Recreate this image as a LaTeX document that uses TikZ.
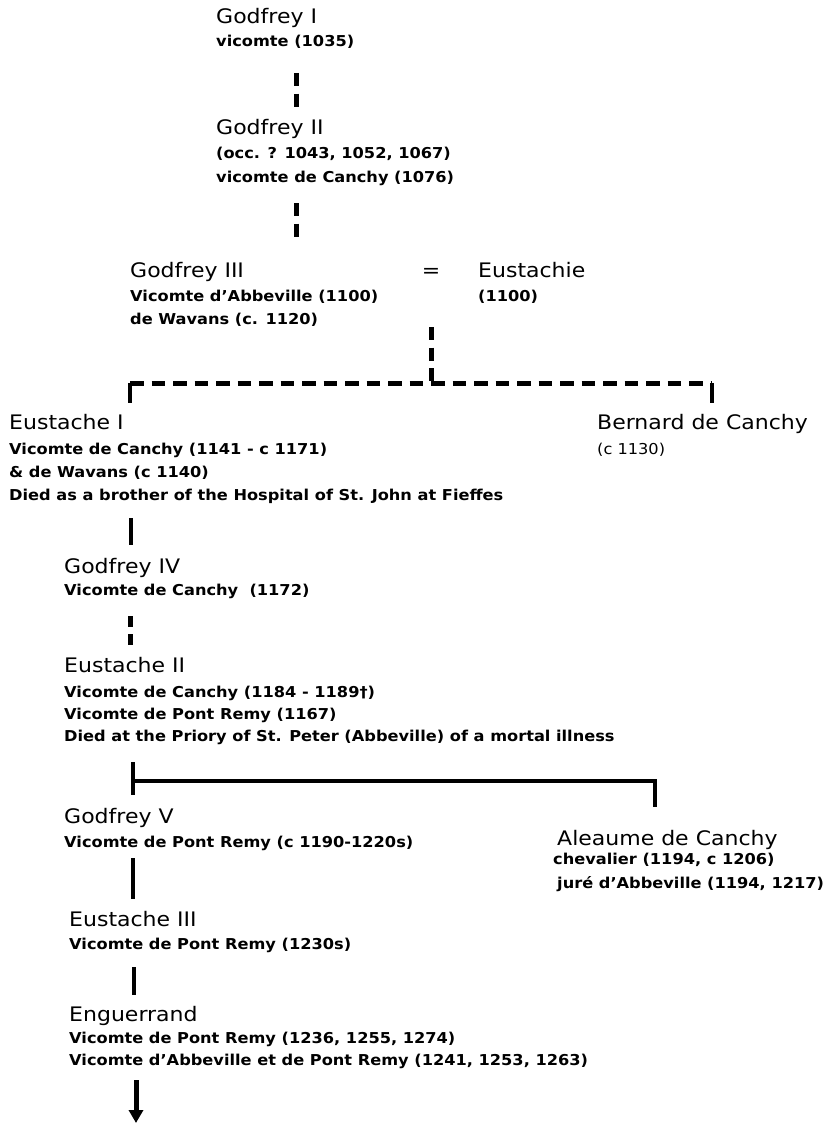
\documentclass[tikz,border=0pt]{standalone}
\usepackage{fontspec}
\newfontfamily\namefont{DejaVu Sans}[FakeStretch=1.1]
\newfontfamily\subfont{DejaVu Sans}[FakeStretch=1.08]
\usetikzlibrary{arrows.meta}
\begin{document}
\begin{tikzpicture}[x=1pt,y=-1pt,
  pname/.style={anchor=base west, inner sep=0pt, font=\namefont\fontsize{20}{24}\selectfont},
  psub/.style={anchor=base west, inner sep=0pt, font=\subfont\bfseries\fontsize{15}{18}\selectfont},
  pnote/.style={anchor=base west, inner sep=0pt, font=\subfont\fontsize{15}{18}\selectfont},
  dline/.style={line width=5pt, dash pattern=on 13pt off 7.5pt},
  hdline/.style={line width=5pt, dash pattern=on 13.5pt off 8pt},
  sline/.style={line width=3.5pt}]
\fill[white] (0,0) rectangle (837,1124);
\useasboundingbox (0,0) rectangle (837,1124);

% Godfrey I
\node[pname] (g1) at (216,24) {Godfrey I};
\node[psub] (g1a) at (216,47) {vicomte (1035)};
% Godfrey II
\node[pname] (g2) at (216,134) {Godfrey II};
\node[psub] (g2a) at (216,158) {(occ. ? 1043, 1052, 1067)};
\node[psub] (g2b) at (216,182) {vicomte de Canchy (1076)};
% Godfrey III = Eustachie
\node[pname] (g3) at (130,277) {Godfrey III};
\node[psub] (g3a) at (130,301) {Vicomte d’Abbeville (1100)};
\node[psub] (g3b) at (130,324) {de Wavans (c. 1120)};
\node[pname, anchor=base] (eq) at (431,277) {=};
\node[pname] (eu) at (478,277) {Eustachie};
\node[psub] (eua) at (478,301) {(1100)};
% Eustache I and Bernard
\node[pname] (e1) at (9,429) {Eustache I};
\node[psub] (e1a) at (9,454) {Vicomte de Canchy (1141 - c 1171)};
\node[psub] (e1b) at (9,477) {\& de Wavans (c 1140)};
\node[psub] (e1c) at (9,500) {Died as a brother of the Hospital of St. John at Fieffes};
\node[pname] (bd) at (597,429) {Bernard de Canchy};
\node[pnote] (bda) at (597,454) {(c 1130)};
% Godfrey IV
\node[pname] (g4) at (64,573) {Godfrey IV};
\node[psub] (g4a) at (64,595) {Vicomte de Canchy\ \ (1172)};
% Eustache II
\node[pname] (e2) at (64,672) {Eustache II};
\node[psub] (e2a) at (64,697) {Vicomte de Canchy (1184 - 1189†)};
\node[psub] (e2b) at (64,719) {Vicomte de Pont Remy (1167)};
\node[psub] (e2c) at (64,741) {Died at the Priory of St. Peter (Abbeville) of a mortal illness};
% Godfrey V and Aleaume
\node[pname] (g5) at (64,823) {Godfrey V};
\node[psub] (g5a) at (64,847) {Vicomte de Pont Remy (c 1190-1220s)};
\node[pname] (al) at (557,845) {Aleaume de Canchy};
\node[psub] (ala) at (553,864) {chevalier (1194, c 1206)};
\node[psub] (alb) at (557,888) {juré d’Abbeville (1194, 1217)};
% Eustache III
\node[pname] (e3) at (69,926) {Eustache III};
\node[psub] (e3a) at (69,949) {Vicomte de Pont Remy (1230s)};
% Enguerrand
\node[pname] (en) at (69,1021) {Enguerrand};
\node[psub] (ena) at (69,1043) {Vicomte de Pont Remy (1236, 1255, 1274)};
\node[psub] (enb) at (69,1065) {Vicomte d’Abbeville et de Pont Remy (1241, 1253, 1263)};

% connector end points
\coordinate (c1t) at (296,73);   \coordinate (c1b) at (296,107);
\coordinate (c2t) at (296,203);  \coordinate (c2b) at (296,237);
\coordinate (m3t) at (431,327);  \coordinate (m3b) at (431,383);
\coordinate (hl) at (130,383);   \coordinate (hr) at (712,383);
\coordinate (hlb) at (130,403);  \coordinate (hrb) at (712,403);
\coordinate (c4t) at (131,518);  \coordinate (c4b) at (131,545);
\coordinate (c5t) at (130,616);  \coordinate (c5b) at (130,646);
\coordinate (c6t) at (133,762);  \coordinate (c6m) at (133,781);
\coordinate (c6b) at (133,795);  \coordinate (c6r) at (655,781);
\coordinate (c6rb) at (655,807);
\coordinate (c7t) at (133,858);  \coordinate (c7b) at (133,899);
\coordinate (c8t) at (134,967);  \coordinate (c8b) at (134,995);
\coordinate (c9t) at (136,1080); \coordinate (c9b) at (136,1123);

% connectors
\draw[dline] (c1t) -- (c1b);
\draw[dline] (c2t) -- (c2b);
\draw[dline] (m3t) -- (m3b);
\draw[hdline] (hl) -- (hr);
\draw[sline] (hl) -- (hlb);
\draw[sline] (hr) -- (hrb);
\draw[sline] (c4t) -- (c4b);
\draw[dline, dash pattern=on 11pt off 7pt] (c5t) -- (c5b);
\draw[sline] (c6t) -- (c6b);
\draw[sline] (c6m) -- (c6r) -- (c6rb);
\draw[sline] (c7t) -- (c7b);
\draw[sline] (c8t) -- (c8b);
\draw[line width=5pt, -{Triangle[width=14pt,length=13pt]}] (c9t) -- (c9b);
\end{tikzpicture}
\end{document}
